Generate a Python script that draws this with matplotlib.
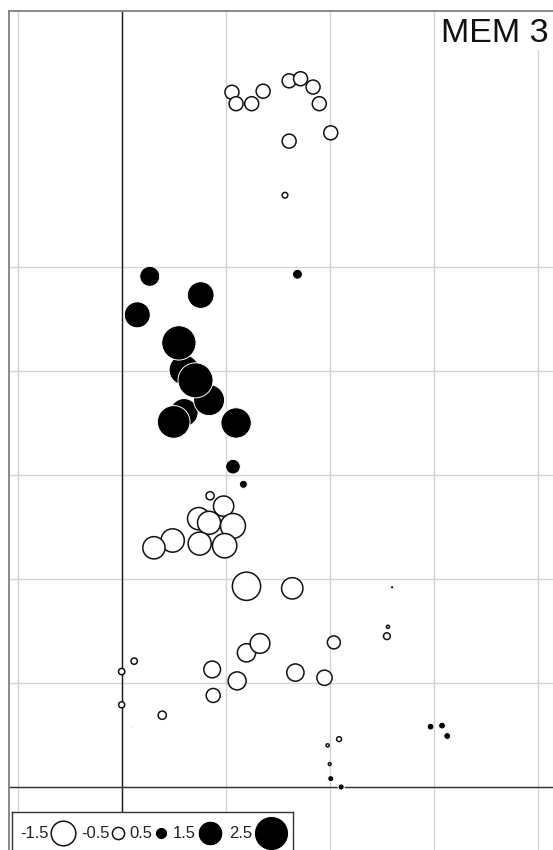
import matplotlib
matplotlib.use("Agg")
import matplotlib.pyplot as plt
from matplotlib.patches import Rectangle
import numpy as np

# ---------------- data ----------------
x = [1.06, 1.10, 1.25, 1.36, 1.61, 1.72, 1.84, 1.90, 2.01, 1.61, 1.57,
     1.69, 0.27, 0.76, 0.15, 0.60, 0.60, 0.84, 0.55, 0.71, 0.50, 1.10, 1.07, 1.17,
     0.85, 0.74, 0.98, 0.84, 1.07, 0.49, 0.31, 0.75, 0.99, 1.20, 1.64,
     2.60, 2.56, 2.55,
     1.20, 1.33, 2.04, 0.12, 0.87, 1.67, 1.95, 1.11, 0.00, 0.88, 0.00, 0.39, 0.10,
     2.97, 3.08, 3.13, 2.09, 1.98, 2.00, 2.01, 2.11]
y = [6.68, 6.57, 6.57, 6.69, 6.79, 6.81, 6.73, 6.57, 6.29, 6.21, 5.69,
     4.93, 4.91, 4.73, 4.54, 4.01, 3.60, 3.72, 4.27, 3.91, 3.51, 3.50, 3.08, 2.91,
     2.80, 2.58, 2.70, 2.54, 2.51, 2.37, 2.30, 2.34, 2.32, 1.93, 1.91,
     1.92, 1.54, 1.45,
     1.29, 1.38, 1.39, 1.21, 1.13, 1.10, 1.05, 1.02, 1.11, 0.88, 0.79, 0.69, 0.58,
     0.58, 0.59, 0.49, 0.46, 0.40, 0.22, 0.08, 0.00]
z = [-0.62, -0.62, -0.62, -0.62, -0.62, -0.62, -0.62, -0.62, -0.62, -0.62, -0.15,
     0.36, 1.08, 1.70, 1.63, 2.04, 1.83, 2.15, 2.52, 2.60, 2.33, 2.08, 0.67, 0.26,
     -0.27, -1.28, -1.11, -1.35, -1.53, -1.38, -1.28, -1.35, -1.47, -1.86, -1.20,
     0.06, -0.06, -0.20,
     -0.94, -1.06, -0.55, -0.18, -0.82, -0.86, -0.71, -0.92, -0.18, -0.62, -0.17, -0.27, 0.02,
     0.20, 0.20, 0.20, -0.12, -0.06, -0.05, 0.17, 0.17]
legend_values = [-1.5, -0.5, 0.5, 1.5, 2.5]
grid_x = [-1, 0, 1, 2, 3, 4]
grid_y = [0, 1, 2, 3, 4, 5]
title = "MEM 3"

# ---------------- style helpers ----------------
FONT = "Liberation Sans"


def size_pt2(v):
    d_px = 19.0 * np.abs(np.asarray(v, dtype=float)) ** 0.64
    return (d_px * 0.72) ** 2


def face(v):
    return ["black" if t > 0 else "white" for t in v]


def edge(v):
    return ["white" if t > 0 else "#111111" for t in v]


def lws(v):
    return [0.7 if t > 0 else 1.1 for t in v]


W, H = 553, 850
fig = plt.figure(figsize=(W / 100, H / 100), dpi=100)
ax = fig.add_axes([0, 0, 1, 1])
XMIN, XMAX = -1.170, 4.147
YMIN, YMAX = -0.606, 7.567
ax.set_xlim(XMIN, XMAX)
ax.set_ylim(YMIN, YMAX)
ax.axis("off")

FRAME_L = -1.079
FRAME_T = 7.465

# grid
for gx in grid_x:
    ax.plot([gx, gx], [YMIN, FRAME_T], color="#d4d4d4", lw=1.0, zorder=1,
            solid_capstyle="butt")
for gy in grid_y:
    ax.plot([FRAME_L, XMAX], [gy, gy], color="#d4d4d4", lw=1.0, zorder=1,
            solid_capstyle="butt")

# title white box
ax.add_patch(Rectangle((442 / W, 1 - 50 / H), (W - 442) / W, (50 - 12) / H,
                       transform=ax.transAxes, facecolor="white",
                       edgecolor="none", zorder=1.5))

# origin lines
ax.plot([0, 0], [-0.24, FRAME_T], color="#1a1a1a", lw=1.0, zorder=2)
ax.plot([FRAME_L, XMAX], [0, 0], color="#333333", lw=1.0, zorder=2)

# frame
ax.plot([FRAME_L, FRAME_L], [YMIN, FRAME_T], color="#808080", lw=1.3, zorder=2.5)
ax.plot([FRAME_L, XMAX], [FRAME_T, FRAME_T], color="#808080", lw=1.3, zorder=2.5)

# points
ax.scatter(x, y, s=size_pt2(z), c=face(z), edgecolors=edge(z),
           linewidths=lws(z), zorder=3)

# title
ax.text(549 / W, 1 - 42 / H, title, transform=ax.transAxes, ha="right",
        va="baseline", fontsize=24.5, family=FONT, color="#111111", zorder=4)

# ---------------- legend ----------------
LX0, LX1, LTOP = 12, 293, 812
lax = fig.add_axes([LX0 / W, 0, (LX1 - LX0) / W, (H - LTOP) / H])
lax.set_xlim(0, LX1 - LX0)
lax.set_ylim(0, H - LTOP)
lax.set_xticks([])
lax.set_yticks([])
lax.set_facecolor("white")
for side in ["left", "top", "right"]:
    lax.spines[side].set_color("#333333")
    lax.spines[side].set_linewidth(1.0)
lax.spines["bottom"].set_visible(False)

renderer = fig.canvas.get_renderer()
cursor = 8.0
row_y = 17.0
for v in legend_values:
    t = lax.text(cursor, row_y, f"{v:g}", ha="left", va="center",
                 fontsize=12, family=FONT, color="#222222")
    w = t.get_window_extent(renderer).width
    d = 19.0 * abs(v) ** 0.64
    left = cursor + w + 2
    cx = left + d / 2
    lax.scatter([cx], [row_y], s=size_pt2([v]), c=face([v]),
                edgecolors=edge([v]), linewidths=lws([v]), zorder=3,
                clip_on=False)
    cursor = left + d + 6

fig.savefig("out.png", dpi=100)
